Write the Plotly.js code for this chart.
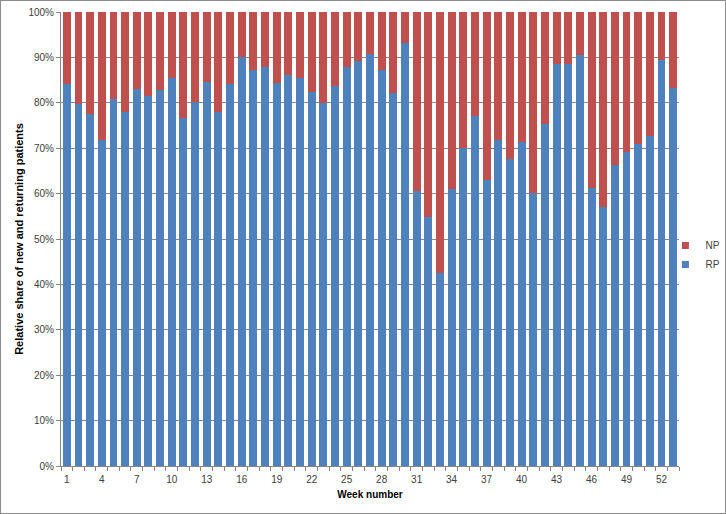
<!DOCTYPE html>
<html>
<head>
<meta charset="utf-8">
<script src="https://cdn.plot.ly/plotly-3.0.1.min.js"></script>
<style>
  html, body { margin: 0; padding: 0; background: #fff; }
  #chart { width: 726px; height: 514px; box-sizing: border-box; border: 1px solid #8c8c8c; }
</style>
</head>
<body>
<div id="chart"></div>
<script>
// Week numbers 1..53
const weeks = [1,2,3,4,5,6,7,8,9,10,11,12,13,14,15,16,17,18,19,20,21,22,23,24,25,26,27,28,29,30,31,32,33,34,35,36,37,38,39,40,41,42,43,44,45,46,47,48,49,50,51,52,53];
// Returning patients (RP), % share
const rpShare = [84.1,79.8,77.5,71.9,80.9,78.0,83.0,81.5,82.8,85.4,76.6,80.2,84.6,78.0,84.1,90.1,87.2,87.9,84.4,86.2,85.5,82.3,80.0,83.8,87.9,89.1,90.8,87.3,82.2,93.2,60.6,54.8,42.6,61.1,70.0,77.0,62.9,71.9,67.7,71.4,60.2,75.4,88.6,88.5,90.5,61.2,57.1,66.4,69.2,71.0,72.7,89.5,83.3];
// New patients (NP), % share = remainder
const npShare = rpShare.map(v => +(100 - v).toFixed(1));
const xTickVals = [1,4,7,10,13,16,19,22,25,28,31,34,37,40,43,46,49,52];
const yTickVals = [0,10,20,30,40,50,60,70,80,90,100];
const yTickText = ['0%','10%','20%','30%','40%','50%','60%','70%','80%','90%','100%'];

const RP_COLOR = '#4F81BD';
const NP_COLOR = '#C0504D';
const font = 'Liberation Sans, Arial, sans-serif';
const traces = [
  { type: 'bar', name: 'RP', x: weeks, y: rpShare, marker: { color: RP_COLOR }, hoverinfo: 'skip', showlegend: false },
  { type: 'bar', name: 'NP', x: weeks, y: npShare, marker: { color: NP_COLOR }, hoverinfo: 'skip', showlegend: false },
  // legend-only entries with small square keys
  { type: 'scatter', mode: 'markers', name: 'NP', x: [null], y: [null], marker: { symbol: 'square', size: 7, color: NP_COLOR }, hoverinfo: 'skip' },
  { type: 'scatter', mode: 'markers', name: 'RP', x: [null], y: [null], marker: { symbol: 'square', size: 7, color: RP_COLOR }, hoverinfo: 'skip' }
];
const layout = {
  width: 724, height: 512,
  margin: { l: 60, r: 46, t: 11, b: 47, autoexpand: false },
  paper_bgcolor: '#fff', plot_bgcolor: '#fff',
  barmode: 'stack', bargap: 0.32,
  font: { family: font, size: 10, color: '#404040' },
  showlegend: true,
  legend: { x: 0.978, xanchor: 'left', y: 0.465, yanchor: 'middle', traceorder: 'normal',
            font: { family: font, size: 10, color: '#404040' }, bgcolor: 'rgba(0,0,0,0)' },
  xaxis: {
    range: [0.5, 53.5], tickmode: 'array', tickvals: xTickVals, ticks: '',
    ticklabelstandoff: 4,
    showgrid: false, zeroline: false, showline: true, linecolor: '#868686', linewidth: 1,
    minor: { tick0: 0.5, dtick: 1, ticks: 'outside', ticklen: 4, tickcolor: '#868686', showgrid: false },
    tickfont: { family: font, size: 10, color: '#404040' },
    title: { text: '<b>Week number</b>', font: { family: font, size: 10, color: '#000' }, standoff: 6 }
  },
  yaxis: {
    range: [0, 100], tickmode: 'array', tickvals: yTickVals, ticktext: yTickText,
    ticks: 'outside', ticklen: 4, tickcolor: '#868686',
    showgrid: true, gridcolor: '#8a8a8a', gridwidth: 1, zeroline: false,
    showline: true, linecolor: '#868686', linewidth: 1,
    tickfont: { family: font, size: 10, color: '#404040' },
    title: { text: '<b>Relative share of new and returning patients</b>', font: { family: font, size: 11, color: '#000' }, standoff: 2 }
  }
};
Plotly.newPlot('chart', traces, layout, { staticPlot: true, displayModeBar: false });
</script>
</body>
</html>
